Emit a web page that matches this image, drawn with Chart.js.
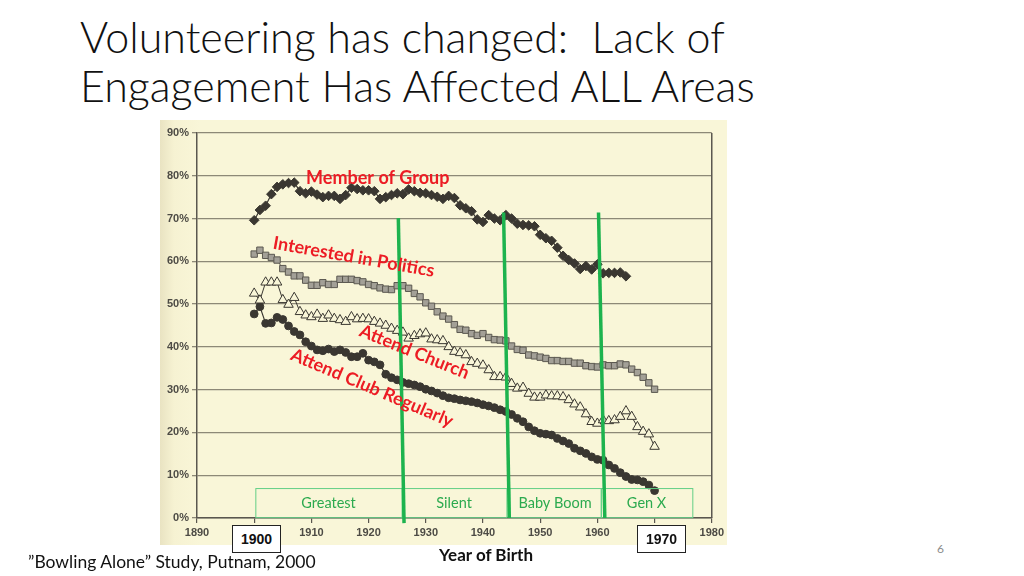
<!DOCTYPE html>
<html>
<head>
<meta charset="utf-8">
<script src="https://cdn.jsdelivr.net/npm/chart.js@4.4.1/dist/chart.umd.min.js"></script>
<style>
  html, body { margin: 0; padding: 0; background: #fff; }
  body { width: 1024px; height: 576px; position: relative; overflow: hidden; font-family: Lato, "Open Sans", sans-serif; }
  #title { position: absolute; left: 80px; top: 12px; font-family: Lato, sans-serif; font-weight: 300; font-size: 43px; line-height: 49px; color: #111; white-space: nowrap; }
  #scan { position: absolute; left: 160px; top: 120px; width: 567px; height: 425px;
          background: linear-gradient(to right, #e9e3c2 0px, #f6f2d2 14px, #f9f6d8 40px, #f9f6d8 100%); }
  .yr { position: absolute; top: 525px; width: 47px; height: 26px; border: 1px solid #222; background: #fff;
        font: bold 14px "Liberation Sans", Arial, sans-serif; text-align: center; line-height: 26px; color: #111; }
  #xlab { position: absolute; left: 420px; top: 544px; width: 132px; text-align: center; font: bold 17px Lato, sans-serif; color: #111; }
  #note { position: absolute; left: 28px; top: 551px; font: 17.5px Lato, sans-serif; color: #111; white-space: nowrap; }
  #page { position: absolute; left: 937px; top: 541px; font: 12px Lato, sans-serif; color: #8c8c8c; }
</style>
</head>
<body>
<div id="title">Volunteering has changed:&nbsp; Lack of<br>Engagement Has Affected ALL Areas</div>
<div id="scan"><canvas id="chart"></canvas></div>
<div class="yr" style="left:232px">1900</div>
<div class="yr" style="left:637px">1970</div>
<div id="xlab">Year of Birth</div>
<div id="note">”Bowling Alone” Study, Putnam, 2000</div>
<div id="page">6</div>
<script>
// birth years (x) and percent values
const years = [1900, 1901, 1902, 1903, 1904, 1905, 1906, 1907, 1908, 1909,
  1910, 1911, 1912, 1913, 1914, 1915, 1916, 1917, 1918, 1919,
  1920, 1921, 1922, 1923, 1924, 1925, 1926, 1927, 1928, 1929,
  1930, 1931, 1932, 1933, 1934, 1935, 1936, 1937, 1938, 1939,
  1940, 1941, 1942, 1943, 1944, 1945, 1946, 1947, 1948, 1949,
  1950, 1951, 1952, 1953, 1954, 1955, 1956, 1957, 1958, 1959,
  1960, 1961, 1962, 1963, 1964, 1965, 1966, 1967, 1968, 1969, 1970];

const memberGroup = [69.6, 72.0, 73.0, 75.7, 77.4, 78.0, 78.3, 78.4, 76.4, 75.9,
  76.3, 75.6, 75.0, 75.3, 75.3, 74.6, 75.5, 77.2, 76.9, 76.6,
  76.6, 76.4, 74.6, 75.0, 75.5, 75.9, 75.7, 76.8, 76.4, 76.0,
  75.9, 75.5, 75.1, 74.6, 75.3, 74.8, 73.1, 72.4, 71.7, 69.8,
  69.2, 70.8, 70.0, 69.6, 70.8, 70.0, 68.8, 68.5, 68.4, 68.2,
  66.2, 65.4, 64.8, 63.2, 61.3, 60.3, 59.5, 58.2, 58.9, 58.1,
  59.3, 57.2, 57.3, 57.3, 57.4, 56.5, null, null, null, null, null];

const politics = [61.7, 62.6, 61.4, 60.9, 60.3, 58.3, 57.5, 56.6, 56.6, 55.6,
  54.4, 54.4, 55.0, 54.6, 54.6, 55.8, 55.8, 55.8, 55.5, 55.2,
  54.6, 54.3, 53.8, 53.5, 53.4, 54.3, 54.3, 53.7, 52.5, 51.7,
  50.3, 49.5, 48.2, 47.2, 46.5, 45.2, 44.1, 43.9, 43.1, 42.7,
  43.1, 42.2, 41.7, 41.6, 41.4, 40.2, 39.4, 39.2, 38.1, 37.9,
  37.6, 37.3, 36.8, 36.8, 36.6, 36.6, 36.2, 36.2, 35.6, 35.4,
  35.3, 35.8, 35.6, 35.6, 36.0, 35.8, 34.8, 34.0, 32.9, 31.6, 30.1];

const church = [52.5, 50.9, 55.1, 55.1, 55.1, 51.0, 49.9, 51.5, 48.2, 47.4,
  47.0, 47.6, 46.6, 47.4, 46.6, 46.3, 45.9, 47.0, 46.5, 46.6,
  46.5, 45.9, 45.5, 45.0, 44.3, 43.8, 43.4, 42.0, 42.6, 43.0,
  43.2, 41.8, 41.6, 41.4, 40.0, 38.9, 38.6, 38.1, 36.5, 36.1,
  35.7, 34.6, 33.0, 33.0, 32.9, 31.4, 30.3, 30.5, 29.1, 28.2,
  28.2, 28.7, 28.5, 28.5, 28.3, 27.6, 26.6, 25.9, 24.3, 22.5,
  22.1, 22.9, 22.7, 22.9, 23.7, 25.0, 23.7, 21.3, 20.2, 19.6, 16.7];

const clubRegular = [47.7, 49.4, 45.5, 45.6, 46.9, 46.4, 44.9, 43.6, 42.8, 41.2,
  40.2, 39.3, 39.1, 39.5, 38.9, 39.3, 38.7, 37.7, 37.7, 38.5,
  36.9, 36.5, 35.8, 33.6, 32.8, 32.3, 31.7, 31.4, 31.1, 30.7,
  30.1, 29.7, 29.2, 28.6, 28.1, 27.9, 27.6, 27.4, 27.2, 26.9,
  26.5, 26.2, 25.8, 25.3, 24.9, 24.2, 23.3, 22.5, 21.3, 20.4,
  19.8, 19.6, 19.4, 18.6, 18.0, 17.4, 16.3, 15.7, 15.1, 14.3,
  13.7, 13.5, 12.4, 11.6, 10.6, 9.7, 9.0, 8.9, 8.5, 7.7, 6.4];

const yTicks = [0, 10, 20, 30, 40, 50, 60, 70, 80, 90];
const xTicks = [1890, 1900, 1910, 1920, 1930, 1940, 1950, 1960, 1970, 1980];

// generation bands drawn in green over the plot
const generations = ['Greatest', 'Silent', 'Baby Boom', 'Gen X'];
const genEdges = [[1900.2, 1925.8], [1925.8, 1944.1], [1944.6, 1960.6], [1960.6, 1976.6]];
const genLines = [[1925.2, 70.1, 1926.2, -1.2], [1943.6, 71.4, 1944.6, 0], [1960.2, 71.4, 1961.3, 0]];

// red labels: text, year, pct, angle
const seriesLabels = [
  ['Member of Group', 1921.6, 79.5, 0],
  ['Interested in Politics', 1917.4, 61.0, 10],
  ['Attend Church', 1928.0, 38.8, 22],
  ['Attend Club Regularly', 1920.6, 30.4, 23]
];

const INK = '#3a3731';
const pts = vals => years.map((y, i) => ({ x: y, y: vals[i] }));

const overlay = {
  id: 'overlay',
  afterDatasetsDraw(chart) {
    const { ctx, scales: { x, y }, chartArea } = chart;
    ctx.save();
    // right frame of the scanned plot
    ctx.strokeStyle = '#5a574f';
    ctx.lineWidth = 1.5;
    ctx.beginPath();
    ctx.moveTo(chartArea.right, chartArea.top);
    ctx.lineTo(chartArea.right, chartArea.bottom);
    ctx.stroke();

    // generation boxes
    ctx.strokeStyle = '#63cf86';
    ctx.lineWidth = 1;
    ctx.fillStyle = '#2caa4f';
    ctx.font = '14.5px Lato, sans-serif';
    ctx.textAlign = 'center';
    ctx.textBaseline = 'middle';
    generations.forEach((g, i) => {
      const l = x.getPixelForValue(genEdges[i][0]);
      const r = x.getPixelForValue(genEdges[i][1]);
      const t = y.getPixelForValue(7.0);
      const b = y.getPixelForValue(0.2);
      ctx.strokeRect(l + 0.5, t + 0.5, r - l, b - t);
      ctx.fillText(g, (l + r) / 2, y.getPixelForValue(3.5));
    });

    // generation divider lines
    ctx.strokeStyle = '#1db34e';
    ctx.lineWidth = 3.5;
    genLines.forEach(s => {
      ctx.beginPath();
      ctx.moveTo(x.getPixelForValue(s[0]), y.getPixelForValue(s[1]));
      ctx.lineTo(x.getPixelForValue(s[2]), y.getPixelForValue(s[3]));
      ctx.stroke();
    });

    // red series labels
    ctx.fillStyle = '#ec1c24';
    ctx.font = 'bold 18px Lato, sans-serif';
    seriesLabels.forEach(([txt, yr, pc, ang]) => {
      ctx.save();
      ctx.translate(x.getPixelForValue(yr), y.getPixelForValue(pc));
      ctx.rotate(ang * Math.PI / 180);
      ctx.fillText(txt, 0, 0);
      ctx.restore();
    });
    ctx.restore();
  }
};

function draw() {
  new Chart(document.getElementById('chart'), {
    type: 'line',
    data: {
      datasets: [
        { label: 'Member of Group', data: pts(memberGroup), pointStyle: 'rectRot', pointRadius: 4.8,
          borderColor: INK, backgroundColor: INK, borderWidth: 1.2, pointBorderWidth: 1 },
        { label: 'Interested in Politics', data: pts(politics), pointStyle: 'rect', pointRadius: 4.5,
          borderColor: '#5b5850', backgroundColor: '#a3a097', pointBorderColor: '#5b5850', borderWidth: 1, pointBorderWidth: 1 },
        { label: 'Attend Church', data: pts(church), pointStyle: 'triangle', pointRadius: 5.5,
          borderColor: INK, backgroundColor: '#f9f6d8', pointBorderColor: INK, borderWidth: 1, pointBorderWidth: 1 },
        { label: 'Attend Club Regularly', data: pts(clubRegular), pointStyle: 'circle', pointRadius: 3.9,
          borderColor: INK, backgroundColor: INK, borderWidth: 1.2, pointBorderWidth: 1 }
      ]
    },
    options: {
      responsive: true,
      maintainAspectRatio: false,
      animation: false,
      devicePixelRatio: 1,
      spanGaps: false,
      layout: { padding: { top: 13, right: 9, left: 0, bottom: 0 } },
      plugins: { legend: { display: false }, tooltip: { enabled: false } },
      scales: {
        x: {
          type: 'linear', min: 1890, max: 1980,
          afterFit: s => { s.height = 27; },
          afterBuildTicks: s => { s.ticks = xTicks.map(v => ({ value: v })); },
          ticks: { callback: v => String(v), color: '#4d4b45', font: { family: 'Liberation Sans', weight: 'bold', size: 11 }, padding: 3, maxRotation: 0 },
          grid: { drawOnChartArea: false, tickLength: 5, color: '#5a574f', lineWidth: 1.2 },
          border: { color: '#5a574f', width: 1.5 }
        },
        y: {
          min: 0, max: 90,
          afterFit: s => { s.width = 37; },
          afterBuildTicks: s => { s.ticks = yTicks.map(v => ({ value: v })); },
          ticks: { callback: v => v + '%', color: '#4d4b45', font: { family: 'Liberation Sans', weight: 'bold', size: 11 }, padding: 3 },
          grid: { color: '#8d8977', lineWidth: 1.3, tickLength: 5 },
          border: { color: '#5a574f', width: 1.5 }
        }
      }
    },
    plugins: [overlay]
  });
}

Promise.all([
  document.fonts.load('bold 10px "Liberation Sans"'),
  document.fonts.load('bold 18px Lato'),
  document.fonts.load('14px Lato'),
  document.fonts.load('300 43px Lato')
]).then(draw, draw);
</script>
</body>
</html>
